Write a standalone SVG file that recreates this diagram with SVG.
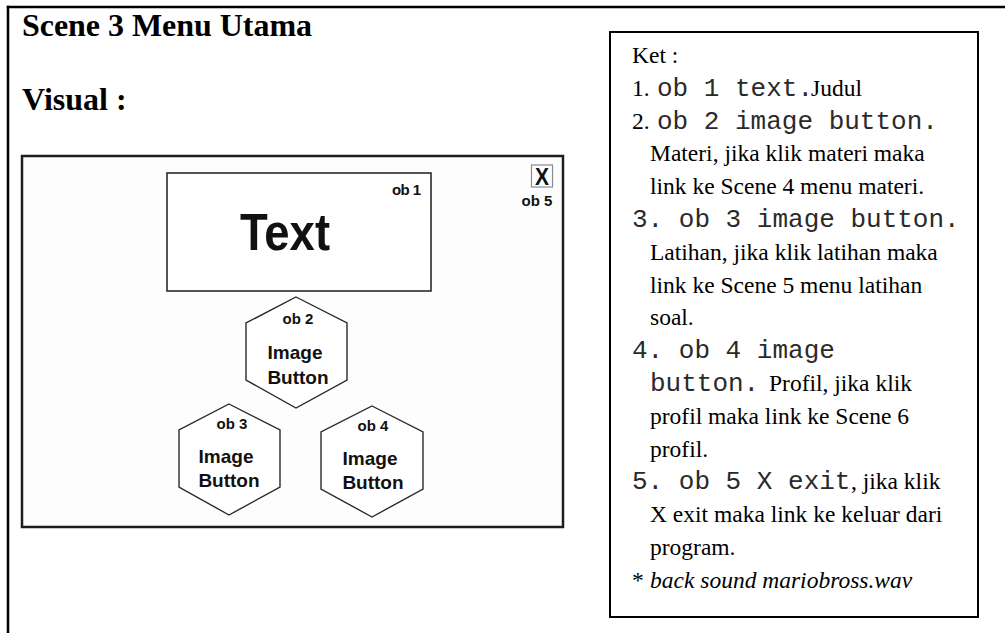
<svg xmlns="http://www.w3.org/2000/svg" width="1005" height="633" viewBox="0 0 1005 633">
  <style>
    .frame { fill: none; stroke: #000; stroke-width: 2.5; }
    .screen { fill: #fdfdfd; stroke: #1e1e1e; stroke-width: 2.5; }
    .obj { fill: #fff; stroke: #2a2a2a; stroke-width: 1.6; }
    .hex { fill: #fff; stroke: #2a2a2a; stroke-width: 1.4; }
    .head { font-family: "Liberation Serif", "Times New Roman", serif; font-weight: bold; font-size: 32px; fill: #000; }
    .ui { font-family: "Liberation Sans", Arial, sans-serif; font-weight: bold; fill: #111; text-anchor: middle; }
    .tag { font-size: 15px; }
    .lbl { font-size: 19px; }
    .note { font-family: "Liberation Serif", "Times New Roman", serif; font-size: 23.5px; fill: #000; }
    .mono { font-family: "Liberation Mono", "Courier New", monospace; font-size: 26px; fill: #2a2a2a; }
    .it { font-style: italic; }
  </style>

  <!-- page border -->
  <g id="page">
    <line class="frame" x1="6.75" y1="7" x2="1005" y2="7"/>
    <line class="frame" x1="8" y1="5.75" x2="8" y2="633"/>
  </g>

  <!-- headings -->
  <g id="headings">
    <text class="head" x="22" y="36" textLength="290">Scene 3 Menu Utama</text>
    <text class="head" x="22" y="110">Visual :</text>
  </g>

  <!-- screen mockup -->
  <g id="screen">
    <rect class="screen" x="22" y="156" width="541" height="371"/>
  </g>

  <g id="ob1">
    <rect class="obj" x="167" y="173" width="264" height="118"/>
    <text class="ui tag" x="406.5" y="195" textLength="29">ob 1</text>
    <text class="ui" x="285" y="250" font-size="52" textLength="90" lengthAdjust="spacingAndGlyphs">Text</text>
  </g>

  <g id="ob5">
    <rect x="531.5" y="165" width="21" height="22" fill="#fff" stroke="#8a8a8a" stroke-width="1.2"/>
    <text class="ui" x="542" y="185" font-size="24" textLength="14" lengthAdjust="spacingAndGlyphs">X</text>
    <text class="ui tag" x="537" y="206">ob 5</text>
  </g>

  <g id="ob2">
    <polygon class="hex" points="296,297 347,323 347,380 296,408 246,380 246,323"/>
    <text class="ui tag" x="298" y="324">ob 2</text>
    <text class="ui lbl" x="295" y="359">Image</text>
    <text class="ui lbl" x="298" y="384">Button</text>
  </g>

  <g id="ob3">
    <polygon class="hex" points="229,404 280,430 280,487 229,515 179,487 179,430"/>
    <text class="ui tag" x="232" y="429">ob 3</text>
    <text class="ui lbl" x="226" y="463">Image</text>
    <text class="ui lbl" x="229" y="487">Button</text>
  </g>

  <g id="ob4">
    <polygon class="hex" points="372,406 423,432 423,489 372,517 321,489 321,432"/>
    <text class="ui tag" x="373" y="431">ob 4</text>
    <text class="ui lbl" x="370" y="465">Image</text>
    <text class="ui lbl" x="373" y="489">Button</text>
  </g>

  <!-- legend -->
  <g id="legend">
    <rect x="610" y="32" width="368" height="585" fill="#fff" stroke="#000" stroke-width="2"/>
    <text class="note" x="632" y="63">Ket :</text>
    <text class="note" x="632" y="96">1.</text>
    <text class="mono" x="657" y="96" font-size="24.5">ob 1 text.</text>
    <text class="note" x="811" y="96">Judul</text>
    <text class="note" x="632" y="129">2.</text>
    <text class="mono" x="657" y="129">ob 2 image button.</text>
    <text class="note" x="650" y="161">Materi, jika klik materi maka</text>
    <text class="note" x="650" y="194">link ke Scene 4 menu materi.</text>
    <text class="mono" x="632" y="227">3. ob 3 image button.</text>
    <text class="note" x="650" y="260">Latihan, jika klik latihan maka</text>
    <text class="note" x="650" y="293">link ke Scene 5 menu latihan</text>
    <text class="note" x="650" y="325">soal.</text>
    <text class="mono" x="632" y="358">4. ob 4 image</text>
    <text class="mono" x="650" y="391">button.</text>
    <text class="note" x="769" y="391">Profil, jika klik</text>
    <text class="note" x="650" y="424">profil maka link ke Scene 6</text>
    <text class="note" x="650" y="457">profil.</text>
    <text class="mono" x="632" y="489">5. ob 5 X exit</text>
    <text class="note" x="851" y="489">, jika klik</text>
    <text class="note" x="650" y="522">X exit maka link ke keluar dari</text>
    <text class="note" x="650" y="555">program.</text>
    <text class="note" x="632" y="588">*</text>
    <text class="note it" x="650" y="588">back sound mariobross.wav</text>
  </g>
</svg>
